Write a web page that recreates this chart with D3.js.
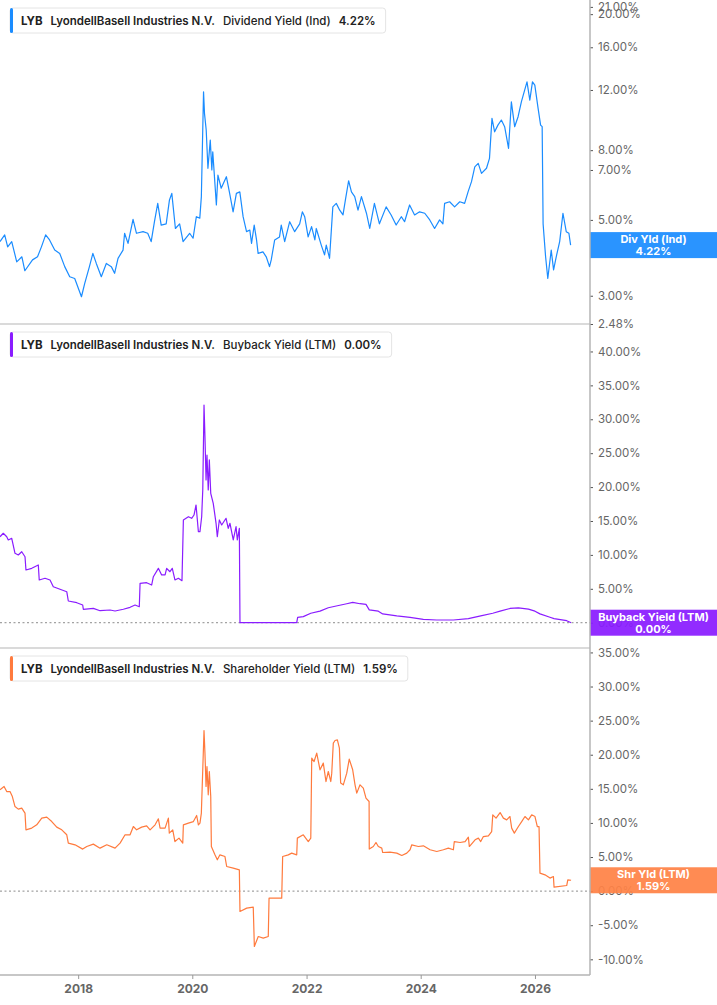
<!DOCTYPE html>
<html>
<head>
<meta charset="utf-8">
<script src="https://cdn.jsdelivr.net/npm/d3@7"></script>
<style>
  body { margin: 0; background: #fff; }
  text { font-family: Inter, "Noto Sans", sans-serif; }
</style>
</head>
<body>
<svg id="chart"></svg>
<script>
// values (percent)
const divYield = [
  ["2016-08-19",4.32],["2016-09-18",4.52],["2016-10-07",4.17],["2016-11-02",4.32],["2016-12-04",3.77],
  ["2017-01-06",3.90],["2017-01-25",3.55],["2017-03-15",3.82],["2017-04-16",3.90],["2017-05-11",4.17],
  ["2017-06-07",4.52],["2017-07-02",4.37],["2017-08-04",4.08],["2017-09-05",3.99],["2017-10-07",3.65],
  ["2017-11-08",3.41],["2017-12-10",3.37],["2018-01-22",2.98],["2018-02-12",3.26],["2018-03-14",3.65],
  ["2018-04-05",3.99],["2018-04-27",3.73],["2018-05-29",3.41],["2018-06-30",3.73],["2018-08-01",3.65],
  ["2018-08-22",3.49],["2018-09-13",3.86],["2018-10-15",4.08],["2018-10-25",4.57],["2018-11-16",4.27],
  ["2018-12-18",5.02],["2019-01-09",4.57],["2019-02-20",4.62],["2019-03-22",4.57],["2019-04-13",4.32],
  ["2019-05-04",4.94],["2019-05-25",5.59],["2019-06-16",4.83],["2019-07-18",4.87],["2019-08-08",5.72],
  ["2019-08-23",5.98],["2019-09-15",4.72],["2019-10-12",4.87],["2019-11-03",4.32],["2019-12-15",4.57],
  ["2020-01-06",4.42],["2020-01-27",5.11],["2020-02-18",5.06],["2020-02-28",5.85],["2020-03-13",11.85],
  ["2020-03-19",10.25],["2020-03-30",9.16],["2020-04-10",7.08],["2020-04-25",8.56],["2020-05-05",7.0],
  ["2020-05-11",7.91],["2020-06-03",5.53],["2020-06-13",6.76],["2020-07-04",6.19],["2020-08-06",6.69],
  ["2020-08-27",5.98],["2020-09-18",5.28],["2020-10-09",5.98],["2020-10-31",6.04],["2020-11-21",5.11],
  ["2020-12-13",4.62],["2021-01-03",4.67],["2021-01-14",4.27],["2021-01-31",4.83],["2021-02-15",4.37],
  ["2021-02-25",3.99],["2021-03-28",4.03],["2021-04-18",3.90],["2021-05-09",3.65],["2021-05-20",3.82],
  ["2021-06-11",4.37],["2021-07-12",4.46],["2021-07-23",4.83],["2021-08-14",4.32],["2021-09-15",4.94],
  ["2021-10-17",4.62],["2021-11-18",4.87],["2021-12-05",5.28],["2021-12-20",5.11],["2022-01-11",4.46],
  ["2022-02-02",4.78],["2022-02-23",4.37],["2022-03-04",4.72],["2022-04-05",4.22],["2022-04-26",3.95],
  ["2022-05-07",4.22],["2022-05-28",3.86],["2022-06-18",5.46],["2022-07-10",5.59],["2022-08-01",5.34],
  ["2022-08-22",5.17],["2022-09-08",5.78],["2022-09-27",6.51],["2022-10-15",6.04],["2022-11-05",5.85],
  ["2022-11-26",5.34],["2022-12-18",5.85],["2023-01-19",5.23],["2023-02-09",4.72],["2023-03-11",5.59],
  ["2023-04-12",4.87],["2023-05-25",5.46],["2023-06-26",5.17],["2023-07-28",4.83],["2023-08-30",5.11],
  ["2023-09-20",4.94],["2023-10-22",5.53],["2023-11-23",5.17],["2023-12-25",5.28],["2024-01-27",5.23],
  ["2024-02-28",5.0],["2024-03-30",4.72],["2024-05-01",5.0],["2024-05-22",4.87],["2024-06-02",5.59],
  ["2024-07-04",5.65],["2024-08-05",5.46],["2024-09-07",5.65],["2024-10-08",5.59],["2024-10-30",6.04],
  ["2024-11-21",6.47],["2024-12-12",7.15],["2025-01-03",7.32],["2025-01-24",6.84],["2025-02-25",7.08],
  ["2025-03-16",7.57],["2025-04-01",9.91],["2025-04-18",9.05],["2025-05-09",9.47],["2025-05-31",9.80],
  ["2025-06-21",9.37],["2025-07-16",8.10],["2025-08-03",11.08],["2025-08-24",9.37],["2025-09-15",10.02],
  ["2025-10-06",11.08],["2025-10-27",11.99],["2025-11-11",12.68],["2025-11-29",11.21],["2025-12-16",12.68],
  ["2025-12-31",12.4],["2026-01-21",10.6],["2026-02-06",9.47],["2026-02-16",9.37],["2026-02-22",4.87],
  ["2026-03-10",3.90],["2026-03-24",3.37],["2026-04-15",4.08],["2026-04-30",3.57],["2026-05-17",3.90],
  ["2026-06-08",4.32],["2026-06-29",5.23],["2026-07-20",4.62],["2026-08-06",4.57],["2026-08-17",4.22]
];

const buybackYield = [
  ["2016-08-19",12.68],["2016-09-09",13.19],["2016-10-01",12.68],["2016-10-11",12.2],["2016-11-02",12.45],
  ["2016-11-23",10.24],["2016-12-14",9.99],["2017-01-05",10.47],["2017-01-26",9.73],["2017-02-01",7.77],
  ["2017-03-10",8.02],["2017-04-21",8.51],["2017-04-27",6.30],["2017-06-03",6.55],["2017-07-05",6.30],
  ["2017-07-26",5.31],["2017-09-07",4.93],["2017-10-20",4.57],["2017-10-30",3.20],["2017-12-23",2.95],
  ["2018-01-30",2.61],["2018-02-03",1.98],["2018-04-08",2.12],["2018-05-21",1.77],["2018-07-24",1.87],
  ["2018-08-25",1.73],["2018-10-17",1.98],["2018-11-29",2.27],["2018-12-31",2.61],["2019-01-27",2.36],
  ["2019-02-01",5.81],["2019-03-15",5.9],["2019-04-16",5.56],["2019-04-27",6.78],["2019-05-29",8.02],
  ["2019-06-19",7.04],["2019-07-11",7.04],["2019-07-21",8.02],["2019-08-11",7.52],["2019-08-26",8.02],
  ["2019-09-12",6.30],["2019-10-04",6.55],["2019-10-27",6.2],["2019-11-05",15.15],["2019-12-07",15.63],
  ["2019-12-28",15.4],["2020-01-12",15.88],["2020-01-25",17.36],["2020-02-09",13.42],["2020-02-19",13.42],
  ["2020-03-01",15.63],["2020-03-08",19.57],["2020-03-16",32.1],["2020-03-22",27.43],["2020-03-29",21.05],
  ["2020-04-04",24.73],["2020-04-12",19.57],["2020-04-19",24.0],["2020-04-28",19.08],["2020-05-14",17.61],
  ["2020-06-01",14.66],["2020-06-09",12.68],["2020-06-22",15.15],["2020-07-07",14.41],["2020-08-04",15.4],
  ["2020-08-18",13.92],["2020-08-29",14.66],["2020-09-19",12.2],["2020-10-07",14.16],["2020-10-15",12.2],
  ["2020-10-28",13.92],["2020-11-01",0],["2021-10-30",0],["2021-11-05",0.8],["2021-12-11",0.9],
  ["2022-01-28",1.4],["2022-03-28",1.7],["2022-05-20",2.2],["2022-07-17",2.5],["2022-09-15",2.8],
  ["2022-10-23",3.0],["2022-12-09",2.8],["2023-01-16",2.7],["2023-02-06",1.9],["2023-04-05",1.7],
  ["2023-05-03",1.3],["2023-08-01",1.0],["2023-10-25",0.8],["2024-01-18",0.5],["2024-04-13",0.4],
  ["2024-07-28",0.4],["2024-11-01",0.6],["2025-01-19",1.0],["2025-04-06",1.4],["2025-05-23",1.7],
  ["2025-07-25",2.1],["2025-09-17",2.2],["2025-11-20",2.0],["2026-01-01",1.7],["2026-02-02",1.3],
  ["2026-04-07",0.8],["2026-05-03",0.6],["2026-07-23",0.3],["2026-08-20",0.0]
];

const shareholderYield = [
  ["2016-08-19",14.85],["2016-09-14",15.34],["2016-10-01",14.6],["2016-10-22",14.6],["2016-11-06",13.87],
  ["2016-11-23",12.4],["2016-12-14",12.02],["2017-01-05",12.17],["2017-01-26",11.44],["2017-02-01",8.99],
  ["2017-03-10",9.24],["2017-04-11",9.72],["2017-05-13",10.7],["2017-06-14",10.85],["2017-07-16",10.2],
  ["2017-08-17",9.38],["2017-09-18",8.99],["2017-10-20",8.26],["2017-10-30",7.04],["2017-12-12",6.79],
  ["2018-01-30",6.16],["2018-02-25",6.54],["2018-04-08",6.89],["2018-05-21",6.3],["2018-07-03",6.79],
  ["2018-08-25",6.3],["2018-09-26",7.04],["2018-10-28",8.26],["2018-11-29",8.26],["2018-12-20",9.47],
  ["2019-01-10",8.99],["2019-02-11",9.38],["2019-03-15",9.57],["2019-04-06",8.99],["2019-05-08",9.72],
  ["2019-05-29",10.6],["2019-06-09",9.24],["2019-07-11",9.24],["2019-08-01",10.7],["2019-08-07",8.5],
  ["2019-08-29",8.99],["2019-09-12",7.27],["2019-10-08",7.77],["2019-11-01",7.04],["2019-11-05",9.72],
  ["2019-12-07",9.97],["2020-01-08",10.2],["2020-01-29",11.09],["2020-02-09",9.72],["2020-02-19",9.97],
  ["2020-02-28",11.44],["2020-03-16",23.55],["2020-03-22",20.23],["2020-03-29",15.34],["2020-04-04",18.27],
  ["2020-04-12",14.12],["2020-04-19",17.54],["2020-04-28",13.87],["2020-05-02",6.54],["2020-05-25",5.32],
  ["2020-06-09",4.59],["2020-06-26",5.32],["2020-07-28",5.07],["2020-08-08",3.61],["2020-09-19",3.37],
  ["2020-10-28",3.12],["2020-11-01",-2.99],["2020-12-14",-2.49],["2021-01-25",-2.35],["2021-02-01",-8.12],
  ["2021-02-26",-6.66],["2021-03-30",-6.89],["2021-05-01",-6.66],["2021-05-06",-1.03],["2021-07-26",-1.03],
  ["2021-08-01",5.07],["2021-09-06",5.32],["2021-09-28",5.57],["2021-10-30",5.32],["2021-11-03",7.77],
  ["2021-12-11",8.26],["2022-01-12",7.27],["2022-01-28",7.77],["2022-02-03",19.5],["2022-02-18",19.0],
  ["2022-03-07",20.23],["2022-03-28",17.79],["2022-04-18",18.77],["2022-05-05",16.07],["2022-05-20",17.54],
  ["2022-06-05",16.07],["2022-06-11",17.3],["2022-06-21",21.7],["2022-07-02",22.08],["2022-07-17",22.18],
  ["2022-07-30",20.97],["2022-08-07",15.84],["2022-08-24",15.59],["2022-09-15",17.3],["2022-10-01",19.35],
  ["2022-10-23",17.79],["2022-11-07",15.59],["2022-11-18",14.37],["2022-12-09",15.59],["2022-12-30",15.1],
  ["2023-01-16",13.64],["2023-02-05",13.14],["2023-02-06",6.16],["2023-03-04",6.54],["2023-03-21",7.13],
  ["2023-04-05",6.54],["2023-04-27",6.3],["2023-05-03",5.66],["2023-06-19",5.72],["2023-08-01",5.57],
  ["2023-09-02",5.22],["2023-10-04",5.57],["2023-10-25",6.06],["2023-11-05",6.79],["2023-12-17",6.54],
  ["2024-01-18",6.64],["2024-03-01",6.06],["2024-04-13",5.81],["2024-05-25",6.06],["2024-06-26",6.3],
  ["2024-07-28",6.06],["2024-08-03",7.27],["2024-09-09",7.13],["2024-10-11",7.27],["2024-11-01",7.92],
  ["2024-11-07",6.54],["2024-12-14",7.52],["2025-01-04",7.77],["2025-01-19",7.27],["2025-02-05",8.0],
  ["2025-03-09",8.11],["2025-03-30",8.74],["2025-04-06",11.19],["2025-04-27",10.7],["2025-05-23",11.52],
  ["2025-06-13",10.7],["2025-07-04",10.45],["2025-07-25",10.94],["2025-08-05",9.24],["2025-08-22",8.5],
  ["2025-09-17",9.47],["2025-10-08",10.2],["2025-10-29",10.94],["2025-11-20",10.45],["2025-12-11",11.19],
  ["2026-01-01",10.94],["2026-01-16",9.47],["2026-01-27",9.47],["2026-02-02",2.64],["2026-03-06",2.39],
  ["2026-04-07",1.91],["2026-04-29",2.14],["2026-05-03",0.59],["2026-07-23",0.82],["2026-07-30",1.66],
  ["2026-08-20",1.59]
];

const divTicks = [2.48, 3, 5, 7, 8, 12, 16, 20, 21];
const buybackTicks = [0, 5, 10, 15, 20, 25, 30, 35, 40];
const shareholderTicks = [-10, -5, 0, 5, 10, 15, 20, 25, 30, 35];
const yearTicks = ["2018-01-01", "2020-01-01", "2022-01-01", "2024-01-01", "2026-01-01"];

const ticker = "LYB";
const company = "LyondellBasell Industries N.V.";
const metricNames = ["Dividend Yield (Ind)", "Buyback Yield (LTM)", "Shareholder Yield (LTM)"];
const badgeNames = ["Div Yld (Ind)", "Buyback Yield (LTM)", "Shr Yld (LTM)"];
const lastValues = [4.22, 0.00, 1.59];

const width = 717, height = 1005;
const plotRight = 590;
const parse = d3.timeParse("%Y-%m-%d");

const svg = d3.select("#chart").attr("width", width).attr("height", height);

const x = d3.scaleTime()
  .domain([parse("2016-08-19"), parse("2026-12-19")])
  .range([0, plotRight]);

const panels = [
  { data: divYield, ticks: divTicks, color: "#1a8cff", badge: "#1a8cff", top: 0, bottom: 324,
    y: d3.scaleLog().domain([2.48, 22]).range([324, 0]), zero: false },
  { data: buybackYield, ticks: buybackTicks, color: "#8a1cff", badge: "#8a1cff", top: 324, bottom: 648,
    y: d3.scaleLinear().domain([-3.73, 44.05]).range([648, 324]), zero: true },
  { data: shareholderYield, ticks: shareholderTicks, color: "#ff7a3d", badge: "#ff8246", top: 648, bottom: 975,
    y: d3.scaleLinear().domain([-12.3, 35.65]).range([975, 648]), zero: true }
];

const fmt = (d) => d.toFixed(2) + "%";

panels.forEach((p, i) => {
  const g = svg.append("g");

  g.append("clipPath").attr("id", "clip" + i)
    .append("rect").attr("x", 0).attr("y", p.top).attr("width", plotRight).attr("height", p.bottom - p.top);

  // zero reference
  if (p.zero) {
    g.append("line")
      .attr("x1", 0).attr("x2", plotRight)
      .attr("y1", p.y(0)).attr("y2", p.y(0))
      .attr("stroke", "#8c8c8c").attr("stroke-width", 1)
      .attr("stroke-dasharray", "2,2.5");
  }

  const line = d3.line()
    .x((d) => x(parse(d[0])))
    .y((d) => p.y(d[1]));

  g.append("path")
    .datum(p.data)
    .attr("clip-path", "url(#clip" + i + ")")
    .attr("fill", "none")
    .attr("stroke", p.color)
    .attr("stroke-width", 1.2)
    .attr("stroke-linejoin", "round")
    .attr("d", line);

  // right axis
  const axis = g.append("g")
    .attr("transform", `translate(${plotRight},0)`)
    .call(d3.axisRight(p.y).tickValues(p.ticks).tickFormat(fmt).tickSize(3).tickPadding(5));
  axis.select(".domain").remove();
  axis.selectAll(".tick line").attr("stroke", "#555");
  axis.selectAll(".tick text")
    .attr("fill", "#666")
    .style("font-size", "11.5px");

  // separator under panel
  if (i < 2) {
    g.append("line")
      .attr("x1", 0).attr("x2", plotRight)
      .attr("y1", p.bottom).attr("y2", p.bottom)
      .attr("stroke", "#b5b5b5").attr("stroke-width", 1);
  }

  // legend box
  const leg = g.append("g").attr("transform", `translate(10,${p.top + 8})`);
  const box = leg.append("rect")
    .attr("x", 0).attr("y", 0).attr("height", 25).attr("rx", 3)
    .attr("fill", "#fff").attr("stroke", "#e4e4e4");
  leg.append("rect").attr("x", 0).attr("y", 0).attr("width", 3).attr("height", 25)
    .attr("rx", 1.5).attr("fill", p.color);
  const parts = [
    { t: ticker, w: 700 },
    { t: company, w: 600 },
    { t: metricNames[i], w: 500 },
    { t: fmt(lastValues[i]), w: 600 }
  ];
  let cx = 11;
  parts.forEach((pt) => {
    const t = leg.append("text")
      .attr("x", cx).attr("y", 17)
      .attr("fill", "#222")
      .style("font-size", "11.5px")
      .style("font-weight", pt.w)
      .text(pt.t);
    cx += t.node().getComputedTextLength() + 8;
  });
  box.attr("width", cx + 2);

  // value badge
  const by = p.y(lastValues[i]);
  const badge = g.append("g").attr("transform", `translate(${plotRight},${by})`);
  badge.append("rect")
    .attr("x", 0).attr("y", -13).attr("width", width - plotRight).attr("height", 26)
    .attr("fill", p.badge).attr("opacity", 0.93);
  badge.append("text")
    .attr("x", (width - plotRight) / 2).attr("y", -2)
    .attr("text-anchor", "middle").attr("fill", "#fff")
    .style("font-size", "11px").style("font-weight", 700)
    .text(badgeNames[i]);
  badge.append("text")
    .attr("x", (width - plotRight) / 2).attr("y", 10)
    .attr("text-anchor", "middle").attr("fill", "#fff")
    .style("font-size", "11px").style("font-weight", 700)
    .text(fmt(lastValues[i]));
});

// right vertical axis line
svg.append("line")
  .attr("x1", plotRight).attr("x2", plotRight)
  .attr("y1", 0).attr("y2", 975)
  .attr("stroke", "#b5b5b5").attr("stroke-width", 1.5);

// bottom time axis
const xAxis = svg.append("g")
  .attr("transform", "translate(0,975)")
  .call(d3.axisBottom(x).tickValues(yearTicks.map(parse)).tickFormat(d3.timeFormat("%Y")).tickSize(4).tickPadding(5));
xAxis.select(".domain").attr("stroke", "#b5b5b5").attr("stroke-width", 1.5)
  .attr("d", `M0,0H${plotRight}`);
xAxis.selectAll(".tick line").attr("stroke", "#999");
xAxis.selectAll(".tick text")
  .attr("fill", "#666")
  .style("font-size", "12px")
  .style("font-weight", 700);
</script>
</body>
</html>
